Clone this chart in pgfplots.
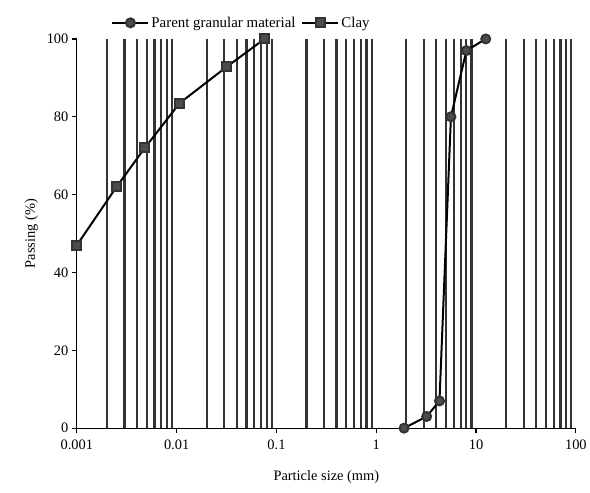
\documentclass[border=0pt]{standalone}
\usepackage{pgfplots}
\pgfplotsset{compat=1.18}
\usepackage{fontspec}
\setmainfont{Liberation Serif}
\begin{document}
\begin{tikzpicture}[x=1bp,y=1bp]
\begin{axis}[
  scale only axis,
  width=500bp, height=390bp,
  xmode=log, log basis x=10,
  xmin=0.001, xmax=100, ymin=0, ymax=100,
  axis x line*=bottom, axis y line*=left,
  axis line style={line width=1.3bp, black},
  xtick={0.001,0.01,0.1,1,10,100},
  xticklabels={0.001,0.01,0.1,1,10,100},
  ytick={0,20,40,60,80,100},
  minor xtick={0.002,0.003,0.004,0.005,0.006,0.007,0.008,0.009,
               0.02,0.03,0.04,0.05,0.06,0.07,0.08,0.09,
               0.2,0.3,0.4,0.5,0.6,0.7,0.8,0.9,
               2,3,4,5,6,7,8,9,
               20,30,40,50,60,70,80,90},
  xminorgrids=true,
  minor grid style={line width=2.2bp, black!80},
  minor tick length=0pt,
  tick align=outside,
  major tick length=5bp,
  tick style={line width=1.2bp, black},
  ticklabel style={font=\fontsize{14.5}{17}\selectfont},
  xticklabel style={yshift=-3bp},
  /pgf/number format/assume math mode=true,
  xlabel={Particle size (mm)},
  ylabel={Passing (\%)},
  label style={font=\fontsize{14.5}{17}\selectfont},
  xlabel style={yshift=-14bp},
  ylabel style={yshift=2bp},
  legend style={at={(axis description cs:0.33,1.0)}, anchor=south, draw=none, fill=none,
    font=\fontsize{15}{17}\selectfont, legend columns=2,
    /tikz/every even column/.append style={column sep=4bp}, yshift=6bp},
  legend image code/.code={\draw[#1] (0bp,0bp) -- (36bp,0bp); \draw[#1, only marks] plot coordinates {(18bp,0bp)};},
  legend cell align=left,
  clip=false,
]
\addplot[black, line width=2bp, mark=*, mark size=4.5bp, mark options={fill=black!70, draw=black!80}]
  coordinates {(1.9,0) (3.2,3) (4.3,7) (5.6,80) (8,97) (12.5,100)};
\addlegendentry{Parent granular material}
\addplot[black, line width=2bp, mark=square*, mark size=4.5bp, mark options={fill=black!70, draw=black!80}]
  coordinates {(0.001,47) (0.0025,62) (0.0048,72) (0.0107,83.5) (0.0316,92.8) (0.076,100)};
\addlegendentry{Clay}
\end{axis}
\useasboundingbox ([shift={(-77bp,-64bp)}]current axis.south west) rectangle ([shift={(13bp,39bp)}]current axis.north east);
\end{tikzpicture}
\end{document}
